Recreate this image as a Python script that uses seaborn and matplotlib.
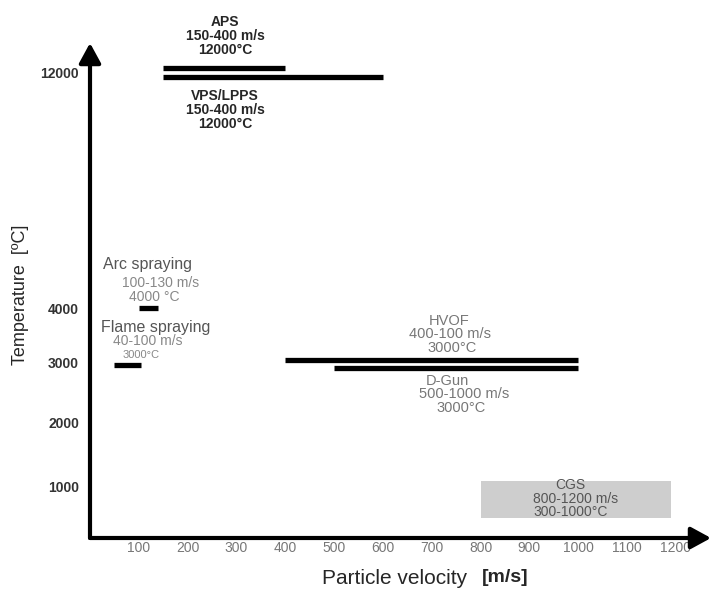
import numpy as np
import pandas as pd
import matplotlib
matplotlib.use('Agg')
import matplotlib.pyplot as plt
import seaborn as sns

# spray processes drawn as horizontal bars (velocity range at one temperature)
processes = ['APS', 'VPS/LPPS', 'HVOF', 'D-Gun', 'Flame spraying', 'Arc spraying']
vel_min = [150, 150, 400, 500, 50, 100]
vel_max = [400, 600, 1000, 1000, 105, 140]
temp_level = [12130, 11840, 3035, 2900, 2950, 4000]

# cold gas spraying shown as a shaded box
cgs_vel = [800, 1190]
cgs_temp = [380, 1080]

x_ticks = [100, 200, 300, 400, 500, 600, 700, 800, 900, 1000, 1100, 1200]
y_ticks = [1000, 2000, 3000, 4000, 12000]

# broken temperature axis: 0-4000 stretched, 4000-12000 compressed
T_knots = [0, 1000, 2000, 3000, 4000, 12000, 14000]
H_knots = [0, 52, 116, 176, 230, 466, 526]

df = pd.DataFrame({
    'process': processes * 2,
    'velocity': vel_min + vel_max,
    'temperature': temp_level * 2,
})

sns.set_style('white')
plt.rcParams['font.family'] = ['Liberation Sans', 'DejaVu Sans']

fig = plt.figure(figsize=(7.11, 5.90), dpi=100)
ax = fig.add_axes([90 / 711, 52 / 590, 621 / 711, 495 / 590])
ax.set_yscale('function', functions=(lambda t: np.interp(t, T_knots, H_knots),
                                     lambda h: np.interp(h, H_knots, T_knots)))

sns.lineplot(data=df, x='velocity', y='temperature', units='process', estimator=None,
             color='black', lw=3.8, solid_capstyle='butt', legend=False, ax=ax)
ax.fill_between(cgs_vel, cgs_temp[0], cgs_temp[1], color='#cecece', lw=0)

ax.set_xlim(0, 1272)
ax.set_ylim(0, 12967)
ax.set_xticks(x_ticks)
ax.set_xticklabels([str(v) for v in x_ticks], fontsize=10, color='#777777')
ax.set_yticks(y_ticks)
ax.set_yticklabels([str(v) for v in y_ticks], fontsize=10, fontweight='bold', color='#333333')
ax.tick_params(axis='x', length=0, pad=2)
ax.tick_params(axis='y', length=0, pad=8)
ax.set_xlabel('')
ax.set_ylabel('')
for s in ax.spines.values():
    s.set_visible(False)

# axes as arrows
arrow = dict(arrowstyle='-|>,head_length=0.55,head_width=0.3', lw=3, color='black',
             mutation_scale=22, shrinkA=0, shrinkB=0)
ax.annotate('', xy=(0, 1), xytext=(0, 0), xycoords='axes fraction', arrowprops=arrow)
ax.annotate('', xy=(1, 0), xytext=(0, 0), xycoords='axes fraction', arrowprops=arrow)

trans = ax.get_xaxis_transform()
ax.text(277, 1.014, 'APS\n150-400 m/s\n12000°C', transform=trans, ha='center', va='center',
        fontsize=10, fontweight='bold', linespacing=1.0)
ax.text(277, 0.865, 'VPS/LPPS\n150-400 m/s\n12000°C', transform=trans, ha='center', va='center',
        fontsize=10, fontweight='bold', linespacing=1.0)

notes = [
    ('Arc spraying', 118, 0.552, 11.5, '#555555'),
    ('100-130 m/s', 145, 0.515, 10, '#888888'),
    ('4000 °C', 131, 0.487, 10, '#888888'),
    ('Flame spraying', 135, 0.426, 11.5, '#555555'),
    ('40-100 m/s', 119, 0.398, 10, '#888888'),
    ('3000°C', 105, 0.370, 8, '#888888'),
    ('HVOF', 736, 0.438, 10.5, '#777777'),
    ('400-100 m/s', 738, 0.412, 10.5, '#777777'),
    ('3000°C', 742, 0.384, 10.5, '#777777'),
    ('D-Gun', 732, 0.317, 10.5, '#777777'),
    ('500-1000 m/s', 766, 0.291, 10.5, '#777777'),
    ('3000°C', 760, 0.263, 10.5, '#777777'),
    ('CGS', 984, 0.107, 10, '#555555'),
    ('800-1200 m/s', 994, 0.079, 10, '#555555'),
    ('300-1000°C', 984, 0.053, 10, '#555555'),
]
for txt, x, y, size, col in notes:
    ax.text(x, y, txt, transform=trans, ha='center', va='center', fontsize=size, color=col)

fig.text(21 / 711, 1 - 295 / 590, 'Temperature  [ºC]', rotation=90, ha='center', va='center',
         fontsize=13)
fig.text(467 / 711, 1 - 578 / 590, 'Particle velocity', ha='right', va='center', fontsize=15)
fig.text(482 / 711, 1 - 578 / 590, '[m/s]', ha='left', va='center', fontsize=14, fontweight='bold')

fig.savefig('out.png', dpi=100)
